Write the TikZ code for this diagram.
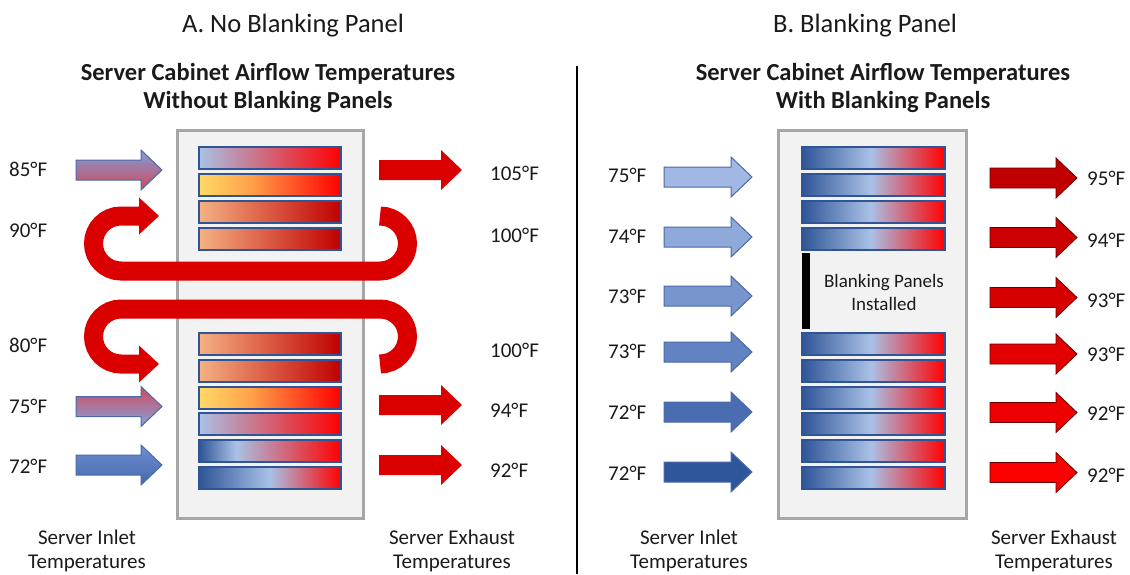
\documentclass[tikz,border=0pt]{standalone}
\usepackage{fontspec}
\setmainfont{Carlito}
\definecolor{txt}{HTML}{1A1A1A}
\definecolor{cabfill}{HTML}{F2F2F2}
\definecolor{cabdraw}{HTML}{A6A6A6}
\definecolor{srvdraw}{HTML}{2F5597}
\definecolor{lb}{HTML}{A9C1E6}
\definecolor{db}{HTML}{2F5597}
\definecolor{rd}{HTML}{FF0000}
\definecolor{yl}{HTML}{FFD966}
\definecolor{orng}{HTML}{FFA24A}
\definecolor{lo}{HTML}{F4B183}
\definecolor{dr}{HTML}{C00000}
\definecolor{hot}{HTML}{DA0000}
\definecolor{inb}{HTML}{4A6AA8}
\pgfdeclarehorizontalshading{sBR}{100bp}{color(0bp)=(lb); color(25bp)=(lb); color(75bp)=(rd); color(100bp)=(rd)}
\pgfdeclarehorizontalshading{sYR}{100bp}{color(0bp)=(yl); color(25bp)=(yl); color(43bp)=(orng); color(75bp)=(rd); color(100bp)=(rd)}
\pgfdeclarehorizontalshading{sOR}{100bp}{color(0bp)=(lo); color(25bp)=(lo); color(75bp)=(dr); color(100bp)=(dr)}
\pgfdeclarehorizontalshading{sBBa}{100bp}{color(0bp)=(db); color(25bp)=(db); color(38bp)=(lb); color(75bp)=(rd); color(100bp)=(rd)}
\pgfdeclarehorizontalshading{sBBb}{100bp}{color(0bp)=(db); color(25bp)=(db); color(50bp)=(lb); color(75bp)=(rd); color(100bp)=(rd)}
\pgfdeclarehorizontalshading{sBBc}{100bp}{color(0bp)=(db); color(25bp)=(db); color(49bp)=(lb); color(75bp)=(rd); color(100bp)=(rd)}
% block arrow: #1 options, #2 x start, #3 centre y, #4 length
\newcommand\blockarrow[4]{%
  \path[#1] (#2,#3-10) -- ({#2+#4-21},#3-10) -- ({#2+#4-21},#3-20) -- ({#2+#4},#3)
    -- ({#2+#4-21},#3+20) -- ({#2+#4-21},#3+10) -- (#2,#3+10) -- cycle;}
% server row: #1 shading, #2 x1, #3 x2, #4 y1, #5 y2
\newcommand\srvrow[5]{%
  \shade[shading=#1, draw=srvdraw, line width=1.3] (#2,#4) rectangle (#3,#5);}
\begin{document}
\begin{tikzpicture}[x=1pt,y=-1pt,
  lbl/.style={font=\fontsize{21}{24}\selectfont, inner sep=0, anchor=base west, text=txt},
  botlbl/.style={font=\fontsize{21}{24}\selectfont, inner sep=0, align=center, text=txt},
  toptitle/.style={font=\fontsize{26.5}{30}\selectfont, inner sep=0, anchor=base, text=txt},
  boldtitle/.style={font=\fontsize{24.5}{28}\selectfont\bfseries, inner sep=0, align=center, text=txt},
  cabinet/.style={fill=cabfill, draw=cabdraw, line width=3},
  uflow/.style={draw=hot, line width=19},
  exhA/.style={fill=hot},
  inlet/.style={draw=inb, line width=1},
  exhB/.style={draw=black!60!red, line width=0.8}]
\useasboundingbox (0,0) rectangle (1130,574);

% ---------------- titles ----------------
\node[toptitle] (titA) at (293,32) {A. No Blanking Panel};
\node[toptitle] (titB) at (865,32) {B. Blanking Panel};
\node[boldtitle] (subA) at (268,88) {Server Cabinet Airflow Temperatures\\Without Blanking Panels};
\node[boldtitle] (subB) at (883,88) {Server Cabinet Airflow Temperatures\\With Blanking Panels};

% divider
\draw[line width=2.5] (577,66) -- (577,574);

% ================= Panel A =================
\draw[cabinet] (177,130) rectangle (363,518);
\srvrow{sBR}{199}{341}{147}{169}
\srvrow{sYR}{199}{341}{174}{196}
\srvrow{sOR}{199}{341}{201}{223}
\srvrow{sOR}{199}{341}{228}{250}
\srvrow{sOR}{199}{341}{333}{355}
\srvrow{sOR}{199}{341}{360}{382}
\srvrow{sYR}{199}{341}{387}{409}
\srvrow{sBR}{199}{341}{413}{435}
\srvrow{sBBa}{199}{341}{440}{462}
\srvrow{sBBb}{199}{341}{467}{489}

% recirculation U arrows
\draw[uflow] (380,216) arc[start angle=-90, end angle=90, radius=27.5]
  -- (121,271) arc[start angle=90, end angle=270, radius=27.5] -- (140,216);
\fill[hot] (139,197.5) -- (159,216) -- (139,234.5) -- cycle;
\draw[uflow] (380,364) arc[start angle=90, end angle=-90, radius=27.5]
  -- (121,309) arc[start angle=270, end angle=90, radius=27.5] -- (140,364);
\fill[hot] (139,345.5) -- (159,364) -- (139,382.5) -- cycle;

% inlet arrows A
\blockarrow{inlet, top color={rgb,255:red,127;green,157;blue,216}, bottom color={rgb,255:red,208;green,72;blue,88}}{76}{170}{86}
\blockarrow{inlet, top color={rgb,255:red,208;green,74;blue,92}, bottom color={rgb,255:red,134;green,162;blue,218}}{76}{406.5}{86}
\blockarrow{inlet, top color={rgb,255:red,111;green,143;blue,208}, bottom color={rgb,255:red,69;green,104;blue,174}}{76}{465}{86}

% exhaust arrows A
\blockarrow{exhA}{379}{170}{83}
\blockarrow{exhA}{379}{405}{83}
\blockarrow{exhA}{379}{465}{83}

% labels A
\node[lbl] (a85) at (9,176.6) {85°F};
\node[lbl] (a90) at (9,237.6) {90°F};
\node[lbl] (a80) at (9,352) {80°F};
\node[lbl] (a75) at (9,413.6) {75°F};
\node[lbl] (a72) at (9,473.6) {72°F};
\node[lbl] (a105) at (490,180) {105°F};
\node[lbl] (a100a) at (490,242.6) {100°F};
\node[lbl] (a100b) at (490,357.6) {100°F};
\node[lbl] (a94) at (490,417.6) {94°F};
\node[lbl] (a92) at (490,477) {92°F};
\node[botlbl] (ainlet) at (87,550.5) {Server Inlet\\Temperatures};
\node[botlbl] (aexh) at (452,550.5) {Server Exhaust\\Temperatures};

% ================= Panel B =================
\draw[cabinet] (778,130) rectangle (966,518);
\srvrow{sBBc}{802}{945}{147}{169}
\srvrow{sBBc}{802}{945}{174}{196}
\srvrow{sBBc}{802}{945}{201}{223}
\srvrow{sBBc}{802}{945}{228}{250}
\srvrow{sBBc}{802}{945}{333}{355}
\srvrow{sBBc}{802}{945}{360}{382}
\srvrow{sBBc}{802}{945}{387}{409}
\srvrow{sBBc}{802}{945}{413}{435}
\srvrow{sBBc}{802}{945}{440}{462}
\srvrow{sBBc}{802}{945}{467}{489}
\fill[black] (802,253) rectangle (810,329);
\node[font=\fontsize{19}{23}\selectfont, inner sep=0, align=center, text=txt] (blank) at (884,292) {Blanking Panels\\Installed};

% inlet arrows B
\blockarrow{inlet, fill={rgb,255:red,160;green,184;blue,227}}{664}{177}{88}
\blockarrow{inlet, fill={rgb,255:red,143;green,169;blue,218}}{664}{237}{88}
\blockarrow{inlet, fill={rgb,255:red,121;green,149;blue,206}}{664}{296}{88}
\blockarrow{inlet, fill={rgb,255:red,98;green,130;blue,194}}{664}{352}{88}
\blockarrow{inlet, fill={rgb,255:red,74;green,109;blue,178}}{664}{412}{88}
\blockarrow{inlet, fill={rgb,255:red,47;green,85;blue,155}}{664}{472}{88}

% exhaust arrows B
\blockarrow{exhB, fill={rgb,255:red,192;green,0;blue,0}}{990}{178}{87}
\blockarrow{exhB, fill={rgb,255:red,204;green,0;blue,0}}{990}{237.5}{87}
\blockarrow{exhB, fill={rgb,255:red,214;green,0;blue,0}}{990}{297.5}{87}
\blockarrow{exhB, fill={rgb,255:red,226;green,0;blue,0}}{990}{354}{87}
\blockarrow{exhB, fill={rgb,255:red,238;green,0;blue,0}}{990}{412.5}{87}
\blockarrow{exhB, fill={rgb,255:red,250;green,0;blue,0}}{990}{472.5}{87}

% labels B
\node[lbl] (b75) at (608,182) {75°F};
\node[lbl] (b74) at (608,243) {74°F};
\node[lbl] (b73a) at (608,303) {73°F};
\node[lbl] (b73b) at (608,358) {73°F};
\node[lbl] (b72a) at (608,419.6) {72°F};
\node[lbl] (b72b) at (608,480) {72°F};
\node[lbl] (b95) at (1087,185) {95°F};
\node[lbl] (b94) at (1087,247) {94°F};
\node[lbl] (b93a) at (1087,307) {93°F};
\node[lbl] (b93b) at (1087,361) {93°F};
\node[lbl] (b92a) at (1087,420.6) {92°F};
\node[lbl] (b92b) at (1087,482.6) {92°F};
\node[botlbl] (binlet) at (689,550.5) {Server Inlet\\Temperatures};
\node[botlbl] (bexh) at (1054,550.5) {Server Exhaust\\Temperatures};
\end{tikzpicture}
\end{document}
